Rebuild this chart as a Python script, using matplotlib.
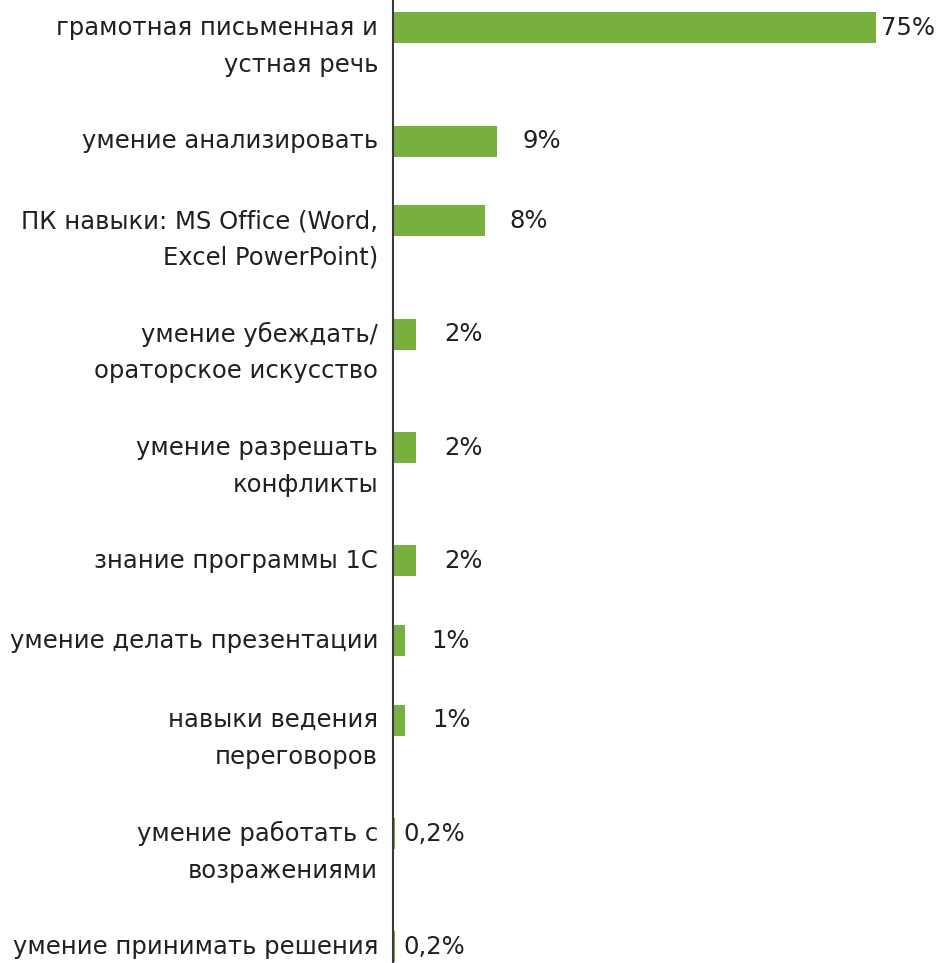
import matplotlib
matplotlib.use("Agg")
import matplotlib.pyplot as plt

# Survey results: which skills matter most
categories = [
    "грамотная письменная и\nустная речь",
    "умение анализировать",
    "ПК навыки: MS Office (Word,\nExcel PowerPoint)",
    "умение убеждать/\nораторское искусство",
    "умение разрешать\nконфликты",
    "знание программы 1С",
    "умение делать презентации",
    "навыки ведения\nпереговоров",
    "умение работать с\nвозражениями",
    "умение принимать решения",
]
values = [75, 9, 8, 2, 2, 2, 1, 1, 0.2, 0.2]
value_labels = ["75%", "9%", "8%", "2%", "2%", "2%", "1%", "1%", "0,2%", "0,2%"]

W, H, DPI = 942, 963, 100
BAR_COLOR = "#77b03c"
TEXT_COLOR = "#231f20"
FONT = ["DejaVu Sans"]
FS = 17.5
LINE_H = 37          # pixel distance between label lines
ROW_BASE = 46.1      # row step: fixed part
ROW_PER_LINE = 33.6  # row step: extra per label line
X_MAX = 42           # value axis is cut here; longer bars run to the edge

# Row layout: each row takes room for its label lines plus a gap
rows = []
y = 28
for lab in categories:
    rows.append(y)
    y += ROW_BASE + ROW_PER_LINE * (lab.count("\n") + 1)

fig = plt.figure(figsize=(W / DPI, H / DPI), dpi=DPI)
ax = fig.add_axes([393 / W, 0, 483 / W, 1])
ax.set_xlim(0, X_MAX)
ax.set_ylim(H, 0)

ax.barh(rows, values, height=31, color=BAR_COLOR, left=0, zorder=2)

for s in ["top", "right", "bottom"]:
    ax.spines[s].set_visible(False)
ax.spines["left"].set_color("#3a3a3a")
ax.spines["left"].set_linewidth(1.5)
ax.spines["left"].set_zorder(3)
ax.set_xticks([])
ax.set_yticks([])

px = 72 / DPI  # points per pixel

# Category labels, right-aligned next to the axis, first line level with the bar
for yy, lab in zip(rows, categories):
    for i, line in enumerate(lab.split("\n")):
        ax.annotate(line, xy=(0, yy + i * LINE_H), xycoords="data",
                    xytext=(-15 * px, 0), textcoords="offset points",
                    ha="right", va="center", fontsize=FS, family=FONT,
                    color=TEXT_COLOR, annotation_clip=False)

# Value labels after the end of each bar
gaps = [5, 26, 24, 28, 28, 28, 27, 28, 8, 8]
for yy, v, txt, g in zip(rows, values, value_labels, gaps):
    ax.annotate(txt, xy=(min(v, X_MAX), yy), xycoords="data",
                xytext=(g * px, 0), textcoords="offset points",
                ha="left", va="center", fontsize=FS, family=FONT,
                color=TEXT_COLOR, annotation_clip=False)

fig.savefig("out.png", dpi=DPI)
